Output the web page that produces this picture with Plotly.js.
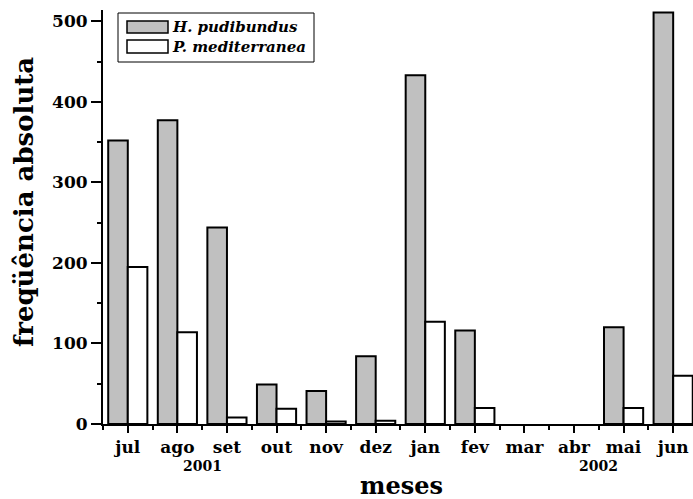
<!DOCTYPE html>
<html>
<head>
<meta charset="utf-8">
<script src="https://cdn.plot.ly/plotly-3.0.1.min.js"></script>
<style>html,body{margin:0;padding:0;background:#fff;}#chart{width:693px;height:499px;}</style>
</head>
<body>
<div id="chart"></div>
<script>
const categories = ["jul","ago","set","out","nov","dez","jan","fev","mar","abr","mai","jun"];
const seriesNames = ["H. pudibundus","P. mediterranea"];
const hPudibundus = [352, 377, 244, 49, 41, 84, 433, 116, 0, 0, 120, 511];
const pMediterranea = [195, 114, 8, 19, 3, 4, 127, 20, 0, 0, 20, 60];
const yearLabels = ["2001","2002"];
const yearPositions = [1.5, 9.5];
const yTickVals = [0,100,200,300,400,500];

const xIdx = categories.map((c,i)=>i);
const W = 693, H = 499;
const L = 103, R = 0, T = 10, B = 75;
const pw = W - L - R, ph = H - T - B;
const px = x => (x - L) / pw;
const py = y => (H - B - y) / ph;
const lineW = arr => arr.map(v => v === 0 ? 0 : 2);

const font = "DejaVu Serif";
const traces = [
  {type:'bar', name: seriesNames[0], x: xIdx, y: hPudibundus,
   marker:{color:'#c0c0c0', line:{color:'#000', width:lineW(hPudibundus)}}, showlegend:false},
  {type:'bar', name: seriesNames[1], x: xIdx, y: pMediterranea,
   marker:{color:'#ffffff', line:{color:'#000', width:lineW(pMediterranea)}}, showlegend:false}
];

const shapes = [
  {type:'rect', xref:'paper', yref:'paper', x0:px(118), x1:px(314), y0:py(62), y1:py(13),
   line:{color:'#000', width:1}, fillcolor:'#fff', layer:'above'},
  {type:'rect', xref:'paper', yref:'paper', x0:px(127), x1:px(168), y0:py(33), y1:py(21),
   line:{color:'#000', width:1.5}, fillcolor:'#c0c0c0', layer:'above'},
  {type:'rect', xref:'paper', yref:'paper', x0:px(127), x1:px(168), y0:py(53), y1:py(40),
   line:{color:'#000', width:1.5}, fillcolor:'#ffffff', layer:'above'}
];

const annotations = [
  {xref:'paper', yref:'paper', x:px(170), y:py(27), xanchor:'left', yanchor:'middle', showarrow:false,
   text:'<b><i>'+seriesNames[0]+'</i></b>', font:{family:font, size:15, color:'#000'}},
  {xref:'paper', yref:'paper', x:px(170), y:py(47), xanchor:'left', yanchor:'middle', showarrow:false,
   text:'<b><i>'+seriesNames[1]+'</i></b>', font:{family:font, size:15, color:'#000'}},
  {xref:'paper', yref:'paper', x:px(401), y:py(485), xanchor:'center', yanchor:'middle', showarrow:false,
   text:'<b>meses</b>', font:{family:font, size:24, color:'#000'}},
  {xref:'paper', yref:'paper', x:px(24), y:py(202), xanchor:'center', yanchor:'middle', showarrow:false, textangle:-90,
   text:'<b>freqüência absoluta</b>', font:{family:font, size:26, color:'#000'}}
];
yearLabels.forEach((t,i)=>annotations.push({
  xref:'x', yref:'paper', x:yearPositions[i], y:py(466), xanchor:'center', yanchor:'middle', showarrow:false,
  text:'<b>'+t+'</b>', font:{family:font, size:14, color:'#000'}}));

const layout = {
  width: W, height: H,
  margin:{l:L, r:R, t:T, b:B, pad:0},
  paper_bgcolor:'#fff', plot_bgcolor:'#fff',
  barmode:'group', bargap:0.21, bargroupgap:0,
  showlegend:false,
  font:{family:font, color:'#000'},
  xaxis:{
    range:[-0.5, 11.4], tickmode:'array', tickvals:xIdx, ticktext:categories,
    showgrid:false, zeroline:false, showline:true, linecolor:'#000', linewidth:2,
    ticks:'outside', ticklen:7, tickwidth:2, tickcolor:'#000',
    tickfont:{family:font, size:17, color:'#000', weight:'bold'},
    minor:{tickmode:'linear', tick0:0.5, dtick:1, ticks:'outside', ticklen:4, tickwidth:2, tickcolor:'#000', showgrid:false}
  },
  yaxis:{
    range:[0, 514], tickmode:'array', tickvals:yTickVals,
    showgrid:false, zeroline:false, showline:true, linecolor:'#000', linewidth:2,
    ticks:'outside', ticklen:10, tickwidth:2, tickcolor:'#000',
    tickfont:{family:font, size:17, color:'#000', weight:'bold'},
    minor:{tickmode:'linear', tick0:50, dtick:100, ticks:'outside', ticklen:4, tickwidth:2, tickcolor:'#000', showgrid:false}
  },
  shapes: shapes,
  annotations: annotations
};
Plotly.newPlot('chart', traces, layout, {staticPlot:true, displayModeBar:false});
</script>
</body>
</html>
